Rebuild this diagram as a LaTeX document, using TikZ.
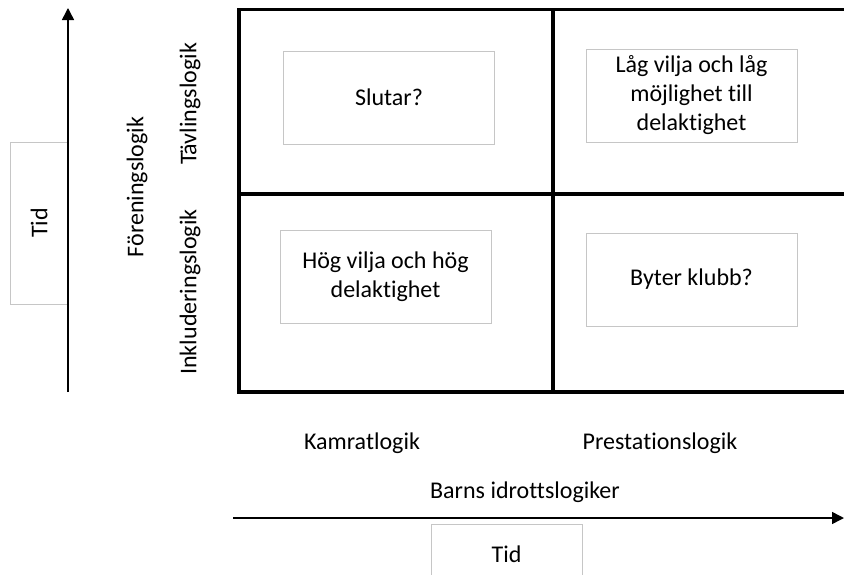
\documentclass[tikz,border=0pt]{standalone}
\usepackage{fontspec}
\setmainfont{Carlito}[Ligatures={NoCommon}]
\usetikzlibrary{arrows.meta}

\tikzset{
  textbox/.style={draw=gray!45, line width=0.8pt, minimum width=211pt, minimum height=93pt, align=center, inner sep=0pt},
  ruta/.style={black, line width=3.5pt},
  axel/.style={black, line width=1.5pt, -{Triangle[width=12pt,length=12pt]}},
}

\begin{document}
\begin{tikzpicture}[x=1pt, y=-1pt, font=\fontsize{24}{29}\selectfont]
\useasboundingbox (0,0) rectangle (844,574);
\clip (0,0) rectangle (844,574);

\coordinate (TL) at (239,9.5);
\coordinate (BL) at (239,392);
\coordinate (TR) at (850,9.5);
\coordinate (BR) at (850,392);
\coordinate (ML) at (239,194);
\coordinate (MR) at (850,194);
\coordinate (MT) at (553,9.5);
\coordinate (MB) at (553,392);

\draw[ruta] (TR)--(TL)--(BL)--(BR);
\draw[ruta] (ML)--(MR);
\draw[ruta] (MT)--(MB);

\node[textbox] (slutar) at (389,97.5) {Slutar?};
\node[textbox] (lag) at (691.5,95.5) {Låg vilja och låg\\möjlighet till\\delaktighet};
\node[textbox] (hog) at (385.5,276.5) {Hög vilja och hög\\delaktighet};
\node[textbox] (byter) at (691.5,279.5) {Byter klubb?};

\node[textbox, rotate=90, minimum width=162pt, minimum height=58pt] (tidv) at (39,223) {Tid};
\coordinate (yb) at (68,392);
\coordinate (yt) at (68,8);
\draw[axel] (yb)--(yt);

\node[rotate=90] (foren) at (137,187) {Föreningslogik};
\node[rotate=90] (tavling) at (190,104) {Tävlingslogik};
\node[rotate=90] (inkl) at (190,292) {Inkluderingslogik};

\node (kamrat) at (362,443) {Kamratlogik};
\node (prest) at (660,443) {Prestationslogik};
\node (barns) at (525,492) {Barns idrottslogiker};

\coordinate (xl) at (233,518);
\coordinate (xr) at (844,518);
\draw[axel] (xl)--(xr);
\node[textbox, minimum width=151pt, minimum height=60pt] (tidh) at (506.5,554) {Tid};

\end{tikzpicture}
\end{document}
